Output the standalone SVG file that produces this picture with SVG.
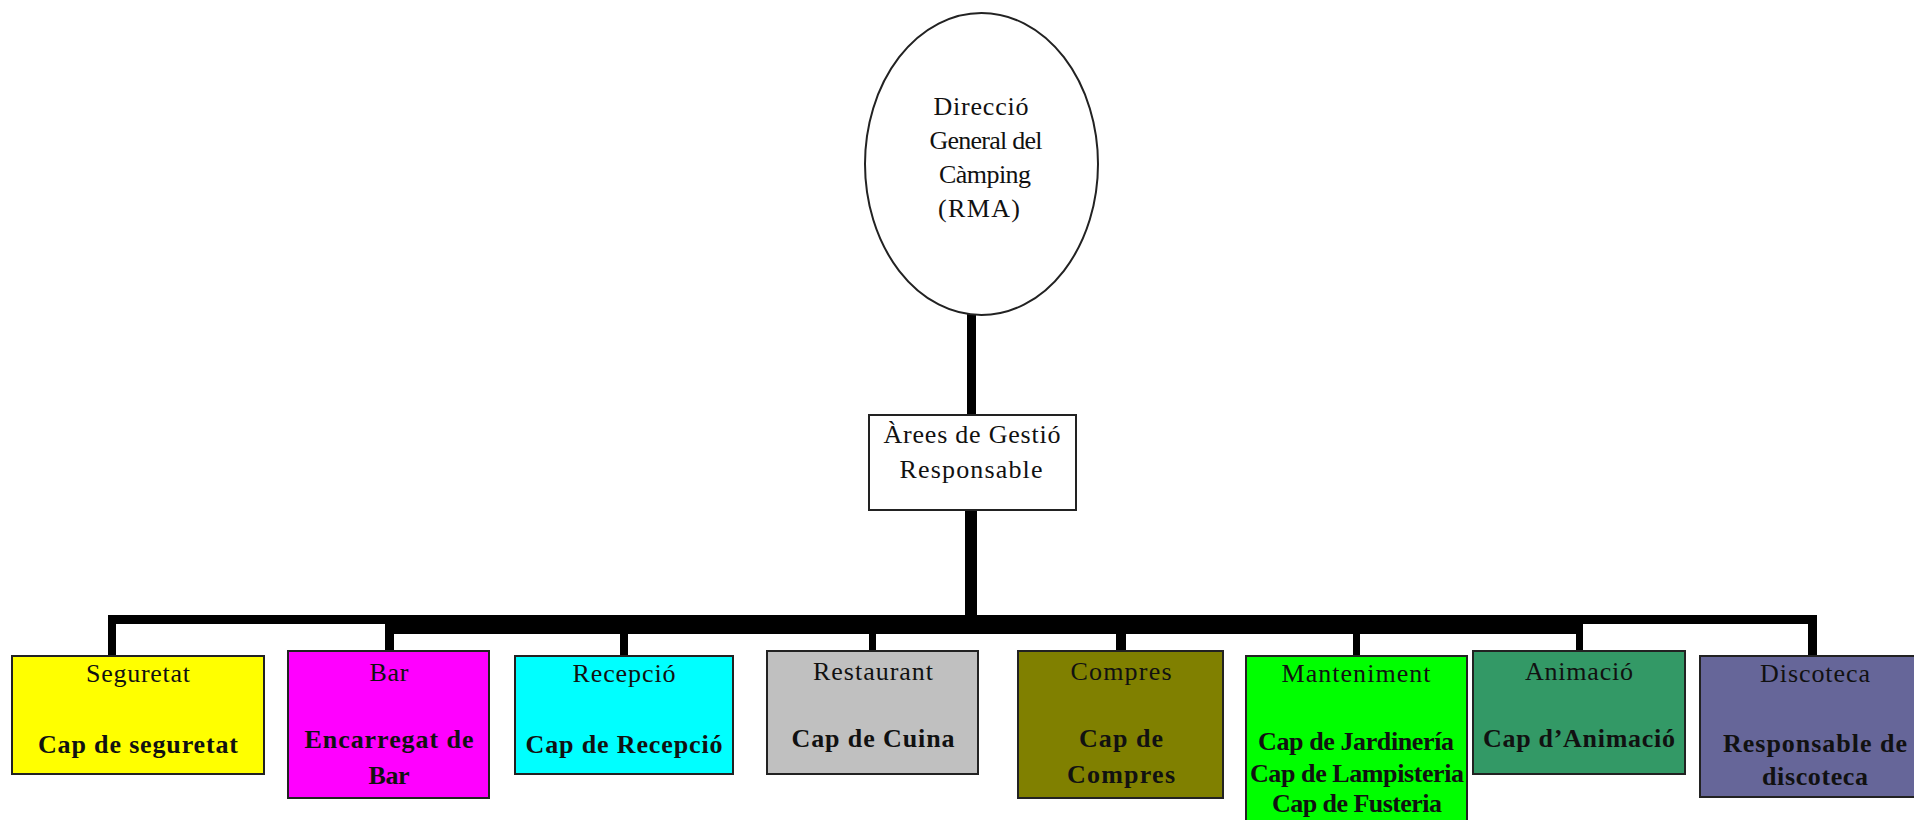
<svg xmlns="http://www.w3.org/2000/svg" width="1914" height="820" viewBox="0 0 1914 820">
<style>
  .box { stroke: #222; stroke-width: 2; }
  .t { font-family: "Liberation Serif", "Times New Roman", serif; font-size: 26px; fill: #111; text-anchor: middle; }
  .b { font-weight: bold; }
  .line { fill: #000; }
</style>
<rect x="0" y="0" width="1914" height="820" fill="#fff"/>
<g id="connectors">
  <rect class="line" x="967" y="314" width="9" height="102"/>
  <rect class="line" x="965" y="509" width="12" height="110"/>
  <rect class="line" x="108" y="615" width="1709" height="9"/>
  <rect class="line" x="385" y="615" width="1198" height="19"/>
  <rect class="line" x="108" y="615" width="8" height="41"/>
  <rect class="line" x="385" y="615" width="9" height="36"/>
  <rect class="line" x="620" y="615" width="8" height="42"/>
  <rect class="line" x="869" y="615" width="7" height="37"/>
  <rect class="line" x="1116" y="615" width="10" height="37"/>
  <rect class="line" x="1353" y="615" width="7" height="42"/>
  <rect class="line" x="1576" y="615" width="7" height="37"/>
  <rect class="line" x="1808" y="615" width="9" height="42"/>
</g>
<g id="direccio">
  <ellipse cx="981.5" cy="164" rx="116.5" ry="151" fill="#fff" stroke="#222" stroke-width="2"/>
  <text class="t" x="981" y="115" textLength="95" lengthAdjust="spacing">Direcció</text>
  <text class="t" x="986" y="149" textLength="113" lengthAdjust="spacing">General del</text>
  <text class="t" x="985" y="183" textLength="92" lengthAdjust="spacing">Càmping</text>
  <text class="t" x="979" y="217" textLength="82" lengthAdjust="spacing">(RMA)</text>
</g>
<g id="arees">
  <rect class="box" x="869" y="415" width="207" height="95" fill="#fff"/>
  <text class="t" x="972" y="443" textLength="177" lengthAdjust="spacing">Àrees de Gestió</text>
  <text class="t" x="971" y="478" textLength="143" lengthAdjust="spacing">Responsable</text>
</g>
<g id="seguretat">
  <rect class="box" x="12" y="656" width="252" height="118" fill="#ffff00"/>
  <text class="t" x="138" y="682" textLength="104" lengthAdjust="spacing">Seguretat</text>
  <text class="t b" x="138" y="753" textLength="200" lengthAdjust="spacing">Cap de seguretat</text>
</g>
<g id="bar">
  <rect class="box" x="288" y="651" width="201" height="147" fill="#ff00ff"/>
  <text class="t" x="389" y="681" textLength="39" lengthAdjust="spacing">Bar</text>
  <text class="t b" x="389" y="748" textLength="169" lengthAdjust="spacing">Encarregat de</text>
  <text class="t b" x="389" y="784" textLength="41" lengthAdjust="spacing">Bar</text>
</g>
<g id="recepcio">
  <rect class="box" x="515" y="656" width="218" height="118" fill="#00ffff"/>
  <text class="t" x="624" y="682" textLength="103" lengthAdjust="spacing">Recepció</text>
  <text class="t b" x="624" y="753" textLength="197" lengthAdjust="spacing">Cap de Recepció</text>
</g>
<g id="restaurant">
  <rect class="box" x="767" y="651" width="211" height="123" fill="#c0c0c0"/>
  <text class="t" x="873" y="680" textLength="120" lengthAdjust="spacing">Restaurant</text>
  <text class="t b" x="873" y="747" textLength="163" lengthAdjust="spacing">Cap de Cuina</text>
</g>
<g id="compres">
  <rect class="box" x="1018" y="651" width="205" height="147" fill="#808000"/>
  <text class="t" x="1121" y="680" textLength="101" lengthAdjust="spacing">Compres</text>
  <text class="t b" x="1121" y="747" textLength="84" lengthAdjust="spacing">Cap de</text>
  <text class="t b" x="1121" y="783" textLength="108" lengthAdjust="spacing">Compres</text>
</g>
<g id="manteniment">
  <rect class="box" x="1246" y="656" width="221" height="170" fill="#00ff00"/>
  <text class="t" x="1356" y="682" textLength="149" lengthAdjust="spacing">Manteniment</text>
  <text class="t b" x="1356" y="750" textLength="196" lengthAdjust="spacing">Cap de Jardinería</text>
  <text class="t b" x="1357" y="782" textLength="214" lengthAdjust="spacing">Cap de Lampisteria</text>
  <text class="t b" x="1357" y="812" textLength="170" lengthAdjust="spacing">Cap de Fusteria</text>
</g>
<g id="animacio">
  <rect class="box" x="1473" y="651" width="212" height="123" fill="#339966"/>
  <text class="t" x="1579" y="680" textLength="108" lengthAdjust="spacing">Animació</text>
  <text class="t b" x="1579" y="747" textLength="192" lengthAdjust="spacing">Cap d’Animació</text>
</g>
<g id="discoteca">
  <rect class="box" x="1700" y="656" width="240" height="141" fill="#666699"/>
  <text class="t" x="1815" y="682" textLength="110" lengthAdjust="spacing">Discoteca</text>
  <text class="t b" x="1815" y="752" textLength="184" lengthAdjust="spacing">Responsable de</text>
  <text class="t b" x="1815" y="785" textLength="106" lengthAdjust="spacing">discoteca</text>
</g>
</svg>
